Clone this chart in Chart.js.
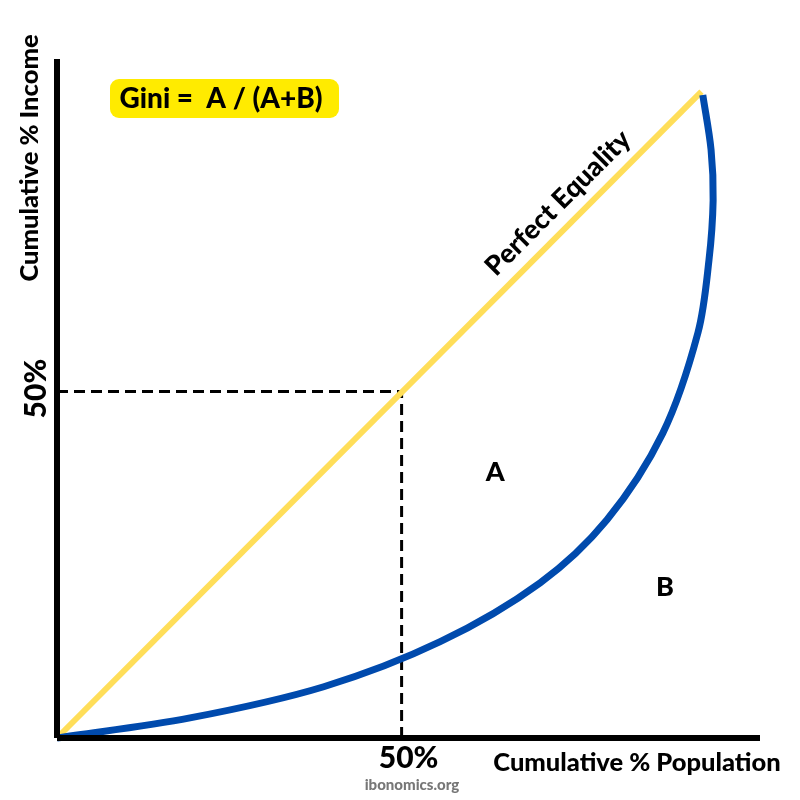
<!DOCTYPE html>
<html>
<head>
<meta charset="utf-8">
<script src="https://cdn.jsdelivr.net/npm/chart.js@4"></script>
<style>
  html, body { margin: 0; padding: 0; background: #fff; }
</style>
</head>
<body>
<canvas id="myChart" width="800" height="800"></canvas>
<script>
// Lorenz curve (cumulative % population, cumulative % income)
var populationPct = [0, 19.3, 38.7, 55.6, 70.1, 79.8, 87.9, 93.0, 94.6, 95.2, 94.9, 93.7];
var incomePct     = [0, 2.9, 7.4, 13.9, 22.4, 31.5, 44.0, 58.5, 69.0, 77.6, 84.9, 92.8];

// line of perfect equality
var equalityX = [0, 93.5];
var equalityY = [0, 93.3];

// axis extents and the 50% guide
var xAxisEnd = 102;
var yAxisEnd = 98;
var guideValue = 50;

function pts(xs, ys) {
  return xs.map(function (x, i) { return { x: x, y: ys[i] }; });
}

var FONT = 'Lato';

// texts drawn on top of the chart
var labelsPlugin = {
  id: 'labels',
  afterDatasetsDraw: function (chart) {
    var c = chart.ctx;
    var xs = chart.scales.x, ys = chart.scales.y;
    function text(t, x, y, size, rot, color) {
      c.save();
      c.translate(x, y);
      c.rotate(rot || 0);
      c.font = '900 ' + size + 'px ' + FONT;
      c.fillStyle = color || '#000';
      c.textAlign = 'center';
      c.textBaseline = 'middle';
      c.fillText(t, 0, 0);
      c.restore();
    }
    // Gini box
    c.save();
    c.fillStyle = '#FFEB00';
    c.beginPath();
    c.roundRect(110, 79, 229, 39, 9);
    c.fill();
    c.restore();
    text('Gini =  A / (A+B)', 221, 99, 28);

    text('Cumulative % Income', 30, 158, 25.5, -Math.PI / 2);
    text('50%', 36, ys.getPixelForValue(guideValue) - 3, 30, -Math.PI / 2);
    text('50%', xs.getPixelForValue(guideValue) + 7, 758, 30);
    text('Cumulative % Population', 637, 763, 25.5);
    text('ibonomics.org', 412, 785, 15, 0, '#777');
    text('Perfect Equality', xs.getPixelForValue(72.7), ys.getPixelForValue(77.2), 27, -Math.PI / 4);
    text('A', xs.getPixelForValue(63.6), ys.getPixelForValue(38.4), 27);
    text('B', xs.getPixelForValue(88.2), ys.getPixelForValue(21.8), 27);
  }
};

var ctx = document.getElementById('myChart').getContext('2d');
var chart = new Chart(ctx, {
  type: 'scatter',
  data: {
    datasets: [
      {
        label: 'x axis',
        data: pts([0, xAxisEnd], [0, 0]),
        borderColor: '#000', borderWidth: 6, borderCapStyle: 'butt'
      },
      {
        label: 'y axis',
        data: pts([0, 0], [0, yAxisEnd]),
        borderColor: '#000', borderWidth: 6, borderCapStyle: 'butt'
      },
      {
        label: 'Lorenz curve',
        data: pts(populationPct, incomePct),
        borderColor: '#004AAD', borderWidth: 7, tension: 0.33
      },
      {
        label: 'Perfect Equality',
        data: pts(equalityX, equalityY),
        borderColor: '#FFDE59', borderWidth: 6
      },
      {
        label: 'guide h',
        data: pts([0, guideValue], [guideValue, guideValue]),
        borderColor: '#000', borderWidth: 3, borderDash: [11, 6]
      },
      {
        label: 'guide v',
        data: pts([guideValue, guideValue], [0, guideValue]),
        borderColor: '#000', borderWidth: 3, borderDash: [11, 6]
      }
    ].map(function (d) {
      d.showLine = true;
      d.pointRadius = 0;
      d.clip = false;
      return d;
    })
  },
  options: {
    responsive: false,
    animation: false,
    layout: { padding: { left: 57, right: 40, top: 59, bottom: 62 } },
    scales: {
      x: { type: 'linear', min: 0, max: xAxisEnd, display: false },
      y: { type: 'linear', min: 0, max: yAxisEnd, display: false }
    },
    plugins: { legend: { display: false }, tooltip: { enabled: false } }
  },
  plugins: [labelsPlugin]
});
</script>
</body>
</html>
